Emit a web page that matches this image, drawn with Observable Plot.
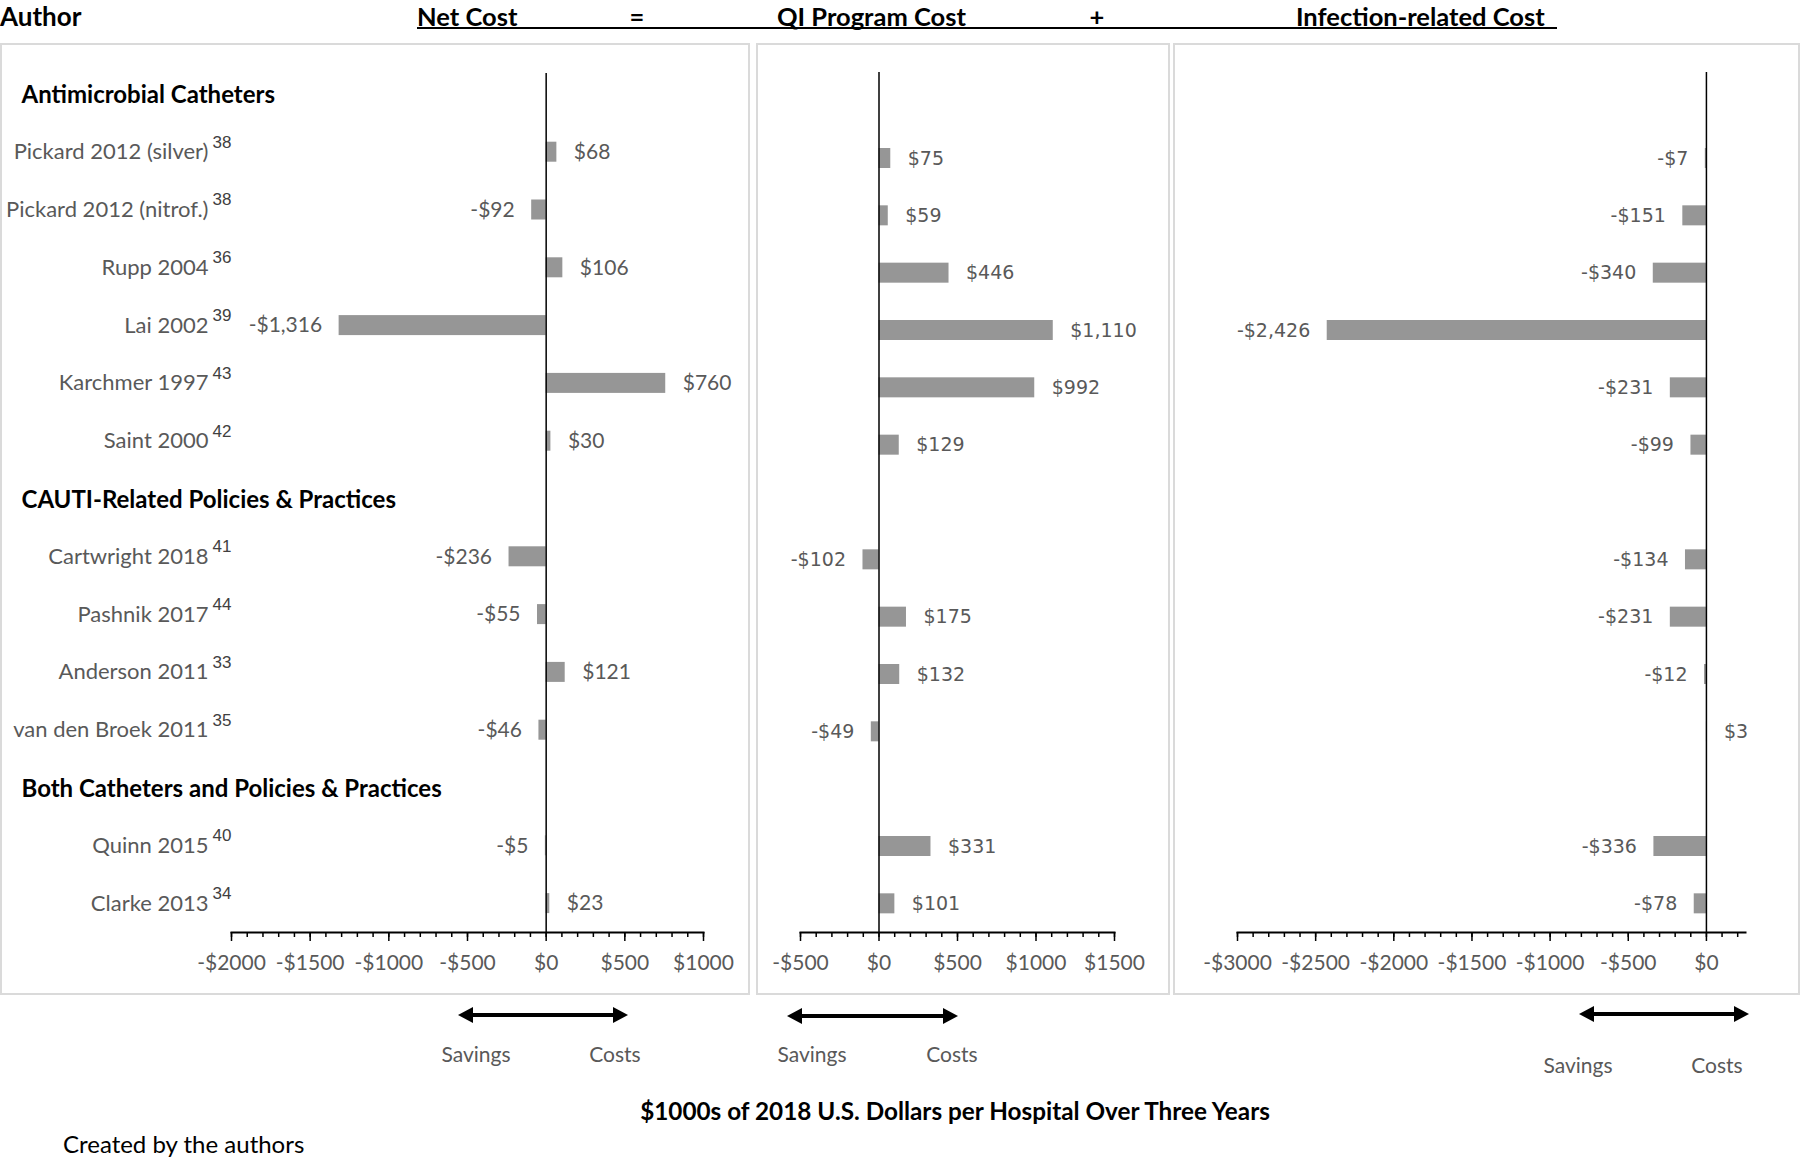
<!DOCTYPE html>
<html>
<head>
<meta charset="utf-8">
<script src="https://cdn.jsdelivr.net/npm/d3@7"></script>
<script src="https://cdn.jsdelivr.net/npm/@observablehq/plot@0.6"></script>
<style>
  html, body { margin: 0; padding: 0; background: #fff; }
  #page { position: relative; width: 1800px; height: 1159px; overflow: hidden; background: #fff; font-family: Lato, "Open Sans", sans-serif; }
  .box { position: absolute; border: 2px solid #dadada; box-sizing: border-box; }
  #ov { position: absolute; left: 0; top: 0; pointer-events: none; }
</style>
</head>
<body>
<div id="page"></div>
<script>
// ---------------- data ----------------
const rows = [
  "Antimicrobial Catheters",
  "Pickard 2012 (silver)", "Pickard 2012 (nitrof.)", "Rupp 2004", "Lai 2002", "Karchmer 1997", "Saint 2000",
  "CAUTI-Related Policies & Practices",
  "Cartwright 2018", "Pashnik 2017", "Anderson 2011", "van den Broek 2011",
  "Both Catheters and Policies & Practices",
  "Quinn 2015", "Clarke 2013"
];
const headers = ["Antimicrobial Catheters", "CAUTI-Related Policies & Practices", "Both Catheters and Policies & Practices"];
const studies = ["Pickard 2012 (silver)", "Pickard 2012 (nitrof.)", "Rupp 2004", "Lai 2002", "Karchmer 1997", "Saint 2000",
  "Cartwright 2018", "Pashnik 2017", "Anderson 2011", "van den Broek 2011", "Quinn 2015", "Clarke 2013"];
const refs = ["38", "38", "36", "39", "43", "42", "41", "44", "33", "35", "40", "34"];
const netCost = [68, -92, 106, -1316, 760, 30, -236, -55, 121, -46, -5, 23];
const qiCost = [75, 59, 446, 1110, 992, 129, -102, 175, 132, -49, 331, 101];
const infectionCost = [-7, -151, -340, -2426, -231, -99, -134, -231, -12, 3, -336, -78];
const netDomain = [-2000, 1000];
const qiDomain = [-500, 1500];
const infectionDomain = [-3000, 250];
const columnTitles = ["Net Cost", "=", "QI Program Cost", "+", "Infection-related Cost"];
const xTitle = "$1000s of 2018 U.S. Dollars per Hospital Over Three Years";
const caption = "Created by the authors";

// ---------------- helpers ----------------
const BAR = "#969696";
const GRAY = "#595959";
const fmtTick = d => (d < 0 ? "-$" : "$") + Math.abs(d);
const fmtVal = d => (d < 0 ? "-$" : "$") + d3.format(",")(Math.abs(d));
const page = document.getElementById("page");

function addBox(left, top, width, height) {
  const b = document.createElement("div");
  b.className = "box";
  Object.assign(b.style, {left: left + "px", top: top + "px", width: width + "px", height: height + "px"});
  page.appendChild(b);
}

function makePanel(cfg) {
  const data = studies.map((s, i) => ({row: s, value: cfg.values[i], ref: refs[i]}));
  const [lo, hi] = cfg.domain;
  const minor = d3.range(lo, hi + 1, 100);
  const major = d3.range(lo, hi + 1, 500);
  const vtext = {x: "value", y: "row", text: d => fmtVal(d.value), fill: GRAY, fontSize: cfg.vSize, fontFamily: cfg.vFont};
  const marks = [
    Plot.barX(data, {x: "value", y: "row", fill: BAR}),
    Plot.ruleX([0], {stroke: "black", strokeWidth: 1.5, insetTop: cfg.ruleInset}),
    Plot.frame({anchor: "bottom", stroke: "black", strokeWidth: 2}),
    Plot.axisX({ticks: minor, tickSize: 5, tickFormat: () => "", stroke: "black", strokeWidth: 1.5, label: null}),
    Plot.axisX({ticks: major, tickSize: 9, tickPadding: 14, tickFormat: fmtTick, color: GRAY, stroke: "black", strokeWidth: 1.5, fontSize: 21, fontFamily: "Lato", label: null}),
    Plot.text(data.filter(d => d.value >= 0), {...vtext, dx: 17, textAnchor: "start"}),
    Plot.text(data.filter(d => d.value < 0), {...vtext, dx: -17, textAnchor: "end"})
  ];
  if (cfg.labels) {
    marks.push(
      Plot.text(data, {y: "row", text: "row", frameAnchor: "left", dx: -23, textAnchor: "end", fill: GRAY, fontSize: 22, fontFamily: "Lato"}),
      Plot.text(data, {y: "row", text: "ref", frameAnchor: "left", dx: -19, dy: -10, textAnchor: "start", fill: "#404040", fontSize: 17, fontFamily: "Liberation Sans"}),
      Plot.text(headers, {y: d => d, text: d => d, frameAnchor: "left", dx: 21 - cfg.mL, dy: 1, textAnchor: "start", fill: "black", fontWeight: "bold", fontSize: 24, fontFamily: "Lato"})
    );
  }
  const plot = Plot.plot({
    width: cfg.width,
    height: 950,
    marginLeft: cfg.mL,
    marginRight: cfg.mR,
    marginTop: cfg.mT,
    marginBottom: 62,
    x: {domain: cfg.domain, label: null},
    y: {type: "band", domain: rows, paddingInner: cfg.pad, paddingOuter: cfg.pad / 2, round: false, axis: null},
    style: {background: "transparent", fontFamily: "Lato", fontSize: "21px", color: "black", overflow: "visible"},
    marks
  });
  Object.assign(plot.style, {position: "absolute", left: cfg.left + "px", top: "44px"});
  page.appendChild(plot);
}

// boxes behind the panels
addBox(0, 43, 750, 952);
addBox(756, 43, 414, 952);
addBox(1173, 43, 627, 952);

makePanel({values: netCost, domain: netDomain, left: 0, width: 750, mL: 231, mR: 47, mT: 21, pad: 0.654, ruleInset: 8, vFont: "Lato", vSize: 21, labels: true});
makePanel({values: qiCost, domain: qiDomain, left: 757, width: 412, mL: 43, mR: 55, mT: 28, pad: 0.651, ruleInset: 0, vFont: "DejaVu Sans", vSize: 19});
makePanel({values: infectionCost, domain: infectionDomain, left: 1174, width: 626, mL: 63, mR: 55, mT: 28, pad: 0.651, ruleInset: 0, vFont: "DejaVu Sans", vSize: 19});

// ---------------- overlay: titles, arrows, notes ----------------
const NS = "http://www.w3.org/2000/svg";
const ov = document.createElementNS(NS, "svg");
ov.setAttribute("id", "ov");
ov.setAttribute("width", 1800);
ov.setAttribute("height", 1159);
page.appendChild(ov);
function el(tag, attrs, text) {
  const e = document.createElementNS(NS, tag);
  for (const k in attrs) e.setAttribute(k, attrs[k]);
  if (text != null) e.textContent = text;
  ov.appendChild(e);
  return e;
}
const hdr = {"font-family": "Lato", "font-weight": "bold", "font-size": 25.5, fill: "black"};
el("text", {...hdr, x: 0, y: 25.5, "font-size": 26}, "Author");
const titlePos = [[417, "start"], [637, "middle"], [777, "start"], [1097, "middle"], [1296, "start"]];
columnTitles.forEach((t, i) => el("text", {...hdr, x: titlePos[i][0], y: 25.5, "text-anchor": titlePos[i][1]}, t));
el("line", {x1: 417, x2: 1557, y1: 28, y2: 28, stroke: "black", "stroke-width": 2});

const arrows = [
  {x1: 458, x2: 628, y: 1015, sx: 476, cx: 615, ty: 1053},
  {x1: 787, x2: 958, y: 1016, sx: 812, cx: 952, ty: 1053},
  {x1: 1579, x2: 1749, y: 1014, sx: 1578, cx: 1717, ty: 1064}
];
for (const a of arrows) {
  const h = 15, w = 8;
  el("line", {x1: a.x1 + h - 1, x2: a.x2 - h + 1, y1: a.y, y2: a.y, stroke: "black", "stroke-width": 4});
  el("polygon", {points: `${a.x1},${a.y} ${a.x1 + h},${a.y - w} ${a.x1 + h},${a.y + w}`, fill: "black"});
  el("polygon", {points: `${a.x2},${a.y} ${a.x2 - h},${a.y - w} ${a.x2 - h},${a.y + w}`, fill: "black"});
  const lt = {"font-family": "Lato", "font-size": 21, fill: GRAY, "text-anchor": "middle", "dominant-baseline": "central"};
  el("text", {...lt, x: a.sx, y: a.ty}, "Savings");
  el("text", {...lt, x: a.cx, y: a.ty}, "Costs");
}
el("text", {"font-family": "Lato", "font-weight": "bold", "font-size": 24.3, fill: "black", x: 955, y: 1110, "text-anchor": "middle", "dominant-baseline": "central"}, xTitle);
el("text", {"font-family": "Lato", "font-size": 24, fill: "black", x: 63, y: 1143, "dominant-baseline": "central"}, caption);
</script>
</body>
</html>
